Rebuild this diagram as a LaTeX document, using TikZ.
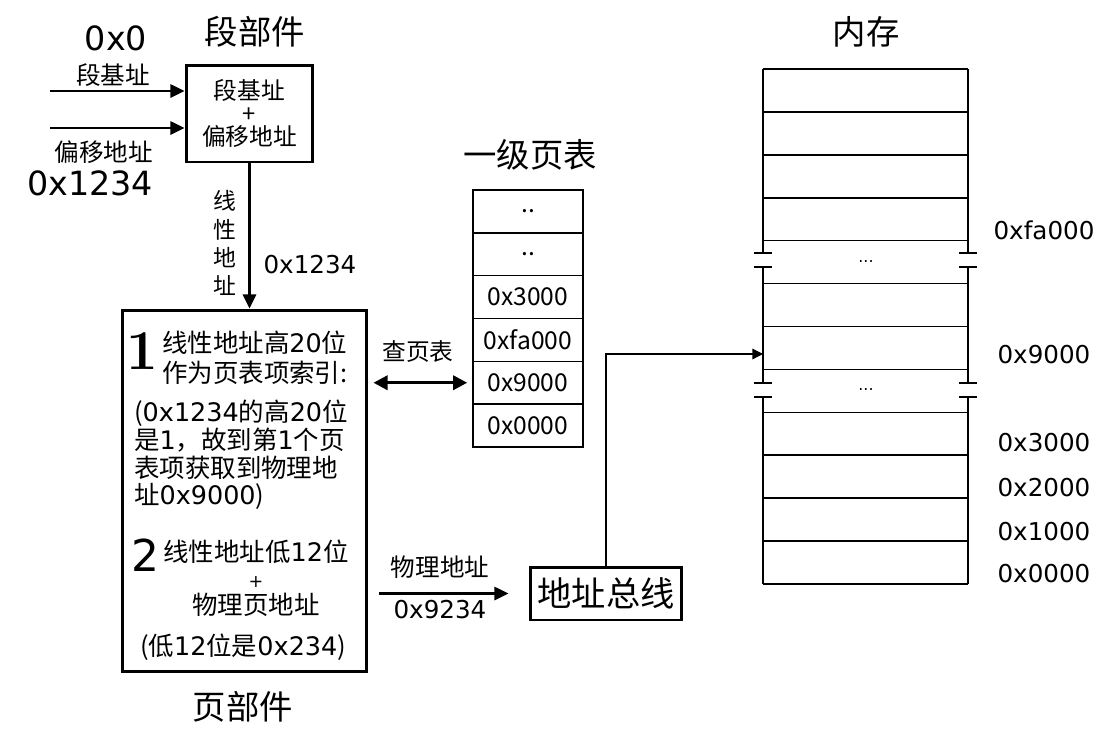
\documentclass[tikz,border=0pt]{standalone}
\usepackage{fontspec}
\usepackage{tikz}
\usetikzlibrary{arrows.meta,positioning,calc}
\newfontfamily\zhfont{Noto Sans CJK SC}
\newfontfamily\hexfont{DejaVu Sans}
\newcommand{\fsz}[1]{\fontsize{#1}{#1}\selectfont}
\newcommand{\hx}[1]{{\hexfont #1}}

\begin{document}
\begin{tikzpicture}[x=0.02cm,y=-0.02cm,
    unit/.style={draw,line width=1.7pt,inner sep=0pt},
    cell/.style={draw,line width=0.9pt,minimum width=2.2cm,minimum height=0.857cm,inner sep=0pt,font=\zhfont\fsz{14}},
    arr/.style={-{Triangle[length=8pt,width=7.5pt]},line width=1.2pt},
    zh/.style={font=\zhfont\fsz{14},inner sep=1pt},
    pg/.style={font=\zhfont\fsz{14.5},inner sep=1pt},
    title/.style={font=\zhfont\fsz{19}},
    hex/.style={font=\hexfont\fsz{14}},
    bighex/.style={font=\hexfont\fsz{19}}]

    \useasboundingbox (0,0) rectangle (1120,738);

    % segment unit
    \node[unit,minimum width=2.54cm,minimum height=1.94cm,align=center,
          font=\zhfont\fontsize{13.5}{13.3}\selectfont] (seg) at (249.5,113.5) {段基址\\+\\偏移地址};
    \node[title] (segname) at (255,32) {段部件};
    \node[bighex] (base) at (116,38) {0x0};
    \node[zh] (baselbl) at (113,75) {段基址};
    \node[zh] (offlbl) at (104,152) {偏移地址};
    \node[bighex] (off) at (90,183) {0x1234};
    \coordinate (basein) at (50,91);
    \coordinate (offin) at (50,128);
    \draw[arr] (basein) -- (basein -| seg.west);
    \draw[arr] (offin) -- (offin -| seg.west);

    % page unit
    \node[unit,minimum width=4.9cm,minimum height=7.24cm] (page) at (244.5,491) {};
    \node[title] (pagename) at (243,707) {页部件};
    \draw[arr] (seg.south) -- (seg.south |- page.north);
    \node[align=center,font=\zhfont\fontsize{13}{16}\selectfont] (linlbl) at (225,243) {线\\性\\地\\址};
    \node[hex] (linval) at (310,265) {0x1234};

    % Labels
    \node[font=\bfseries\fontsize{32}{32}\selectfont,inner sep=0pt] (one) at (142,351) {1};
    \node[pg,anchor=west] (hi1) at (160,343) {线性地址高\hx{20}位};
    \node[pg,anchor=west] (hi2) at (160,373) {作为页表项索引:};
    \node[pg,anchor=west,align=left,font=\zhfont\fontsize{14.5}{15.8}\selectfont] (hinote) at (132,455)
        {(\hx{0x1234}的高\hx{20}位\\是\hx{1}，故到第\hx{1}个页\\表项获取到物理地\\址\hx{0x9000})};
    \node[font=\hexfont\fsz{25},inner sep=0pt] (two) at (145,555) {2};
    \node[pg,align=center,inner sep=0pt,font=\zhfont\fontsize{14.5}{15}\selectfont] (lo) at (256,578)
        {线性地址低\hx{12}位\\{\hexfont\fsz{10}+}\\物理页地址};
    \node[pg,inner sep=0pt] (lonote) at (243,647) {(低\hx{12}位是\hx{0x234})};

    % page table
    \node[title] (ptname) at (530,155) {一级页表};
    \foreach \t [count=\i] in {{..},{..},{0x3000},{0xfa000},{0x9000},{0x0000}}
        \node[cell] (pt\i) at (528,{190+42.83*(\i-0.5)}) {\t};
    \draw[{Triangle[length=8pt,width=8pt]}-{Triangle[length=8pt,width=8pt]},line width=1.8pt,
          shorten <=0.1cm,shorten >=0.1cm] (pt5.west -| page.east) -- (pt5.west);
    \node[zh,font=\zhfont\fsz{13.5}] (lookup) at (418,352) {查页表};

    % address bus
    \node[unit,minimum width=3.04cm,minimum height=1.06cm,font=\zhfont\fsz{19.5}] (bus) at (606,593.5) {地址总线};
    \draw[arr,shorten <=0.22cm,shorten >=0.4cm] (page.east |- bus.west) -- (bus.west);
    \node[zh] (physlbl) at (440,567) {物理地址};
    \node[hex] (physval) at (440,610) {0x9234};

    % memory
    \node[title] (memname) at (866,32) {内存};
    \foreach \k in {0,...,12}
        \draw[line width=0.9pt] (763,{69+42.92*\k}) -- (968,{69+42.92*\k});
    \foreach \x in {763,968} {
        \draw[line width=0.9pt] (\x,69) -- (\x,253) (\x,267) -- (\x,383) (\x,397) -- (\x,584);
        \foreach \y in {253,267,383,397}
            \draw[line width=0.9pt] (\x-9,\y) -- (\x+9,\y);
    }
    \node[font=\hexfont\fsz{9}] (gap1) at (866,262) {...};
    \node[font=\hexfont\fsz{9}] (gap2) at (866,390) {...};
    \coordinate (memin) at (763,354);
    \draw[-{Triangle[length=6pt,width=6pt]},line width=0.7pt] (bus.north) |- (memin);
    \foreach \a/\y in {0xfa000/230,0x9000/355,0x3000/443,0x2000/488,0x1000/532,0x0000/574}
        \node[hex] at (1044,\y) {\a};
\end{tikzpicture}
\end{document}
